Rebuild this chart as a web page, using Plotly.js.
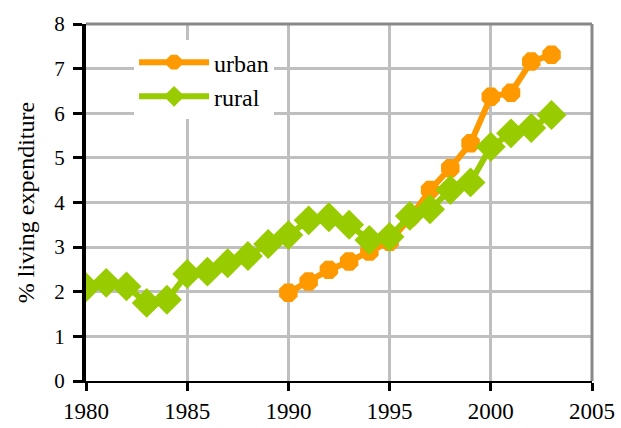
<!DOCTYPE html>
<html>
<head>
<meta charset="utf-8">
<script src="https://cdn.plot.ly/plotly-3.0.1.min.js"></script>
<style>html,body{margin:0;padding:0;background:#fff;}#chart{width:621px;height:428px;}</style>
</head>
<body>
<div id="chart"></div>
<script>
var ruralYears = [1980,1981,1982,1983,1984,1985,1986,1987,1988,1989,1990,1991,1992,1993,1994,1995,1996,1997,1998,1999,2000,2001,2002,2003];
var ruralValues = [2.1,2.2,2.12,1.75,1.82,2.4,2.45,2.64,2.8,3.07,3.27,3.6,3.67,3.5,3.16,3.23,3.7,3.85,4.28,4.45,5.25,5.55,5.67,5.96];
var urbanYears = [1990,1991,1992,1993,1994,1995,1996,1997,1998,1999,2000,2001,2002,2003];
var urbanValues = [1.98,2.23,2.49,2.68,2.9,3.12,3.65,4.28,4.77,5.33,6.37,6.46,7.16,7.31];
var xTicks = [1980,1985,1990,1995,2000,2005];
var yTicks = [0,1,2,3,4,5,6,7,8];

var font = 'Liberation Serif, Times New Roman, serif';
var traces = [
  {x: urbanYears, y: urbanValues, name: 'urban', mode: 'lines+markers',
   line: {color: '#FF9900', width: 6},
   marker: {symbol: 'octagon', size: 20, color: '#FF9900'}},
  {x: ruralYears, y: ruralValues, name: 'rural', mode: 'lines+markers',
   line: {color: '#99CC00', width: 6},
   marker: {symbol: 'diamond', size: 23, color: '#99CC00'}}
];
var layout = {
  width: 621, height: 428,
  margin: {l: 86, r: 29, t: 24, b: 47},
  paper_bgcolor: '#fff', plot_bgcolor: '#fff',
  font: {family: font, size: 22, color: '#000'},
  showlegend: true,
  legend: {x: 0.095, y: 0.955, xanchor: 'left', yanchor: 'top', bgcolor: '#fff',
           itemwidth: 70, font: {family: font, size: 24, color: '#000'}, tracegroupgap: 0},
  xaxis: {range: [1980, 2005], tickvals: xTicks, ticktext: xTicks.map(String),
          showgrid: true, gridcolor: '#bfbfbf', gridwidth: 3, zeroline: false,
          showline: true, linecolor: '#000', linewidth: 2,
          ticks: 'outside', ticklen: 8, tickwidth: 3, tickcolor: '#000',
          tickfont: {family: font, size: 23}},
  yaxis: {range: [0, 8], tickvals: yTicks,
          showgrid: true, gridcolor: '#bfbfbf', gridwidth: 3, zeroline: false,
          showline: true, linecolor: '#000', linewidth: 4,
          ticks: 'outside', ticklen: 9, tickwidth: 3, tickcolor: '#000',
          ticklabelstandoff: 4,
          tickfont: {family: font, size: 21},
          title: {text: '% living expenditure', font: {family: font, size: 24}, standoff: 14}},
  shapes: [
    {type: 'line', xref: 'paper', yref: 'paper', x0: 0, x1: 1, y0: 1, y1: 1, line: {color: '#888', width: 3}},
    {type: 'line', xref: 'paper', yref: 'paper', x0: 1, x1: 1, y0: 0, y1: 1, line: {color: '#888', width: 3}}
  ]
};
Plotly.newPlot('chart', traces, layout, {displayModeBar: false, staticPlot: true});
</script>
</body>
</html>
